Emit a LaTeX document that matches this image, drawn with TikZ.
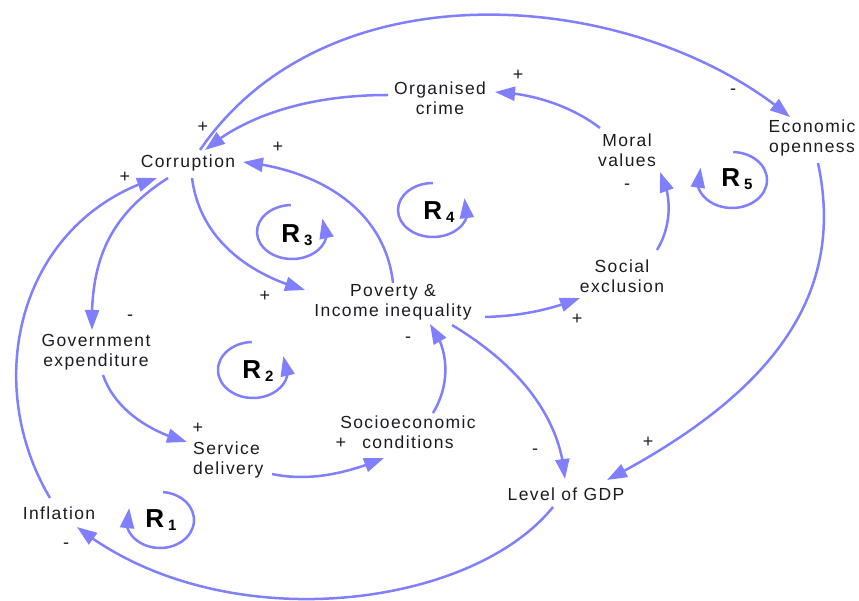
\documentclass[tikz,border=0pt]{standalone}
\usepackage{fontspec}
\setmainfont{Liberation Sans}[LetterSpace=8]
\newfontfamily\loopfont{Liberation Sans}
\usetikzlibrary{arrows.meta,bending}
\definecolor{linkblue}{RGB}{128,128,255}
\definecolor{ink}{RGB}{30,25,35}

\begin{document}
\begin{tikzpicture}[x=1pt,y=-1pt,
  var/.style={align=center,inner sep=0pt,text=ink,font=\fontsize{17.5}{20}\selectfont},
  link/.style={draw=linkblue,line width=2.5pt,-{Triangle[length=20pt,width=14pt]}},
  pol/.style={text=ink,inner sep=0pt,font=\fontsize{18}{18}\selectfont},
  looplab/.style={text=black,inner sep=0pt,anchor=base,font=\loopfont\fontsize{26}{26}\selectfont\bfseries}]
\useasboundingbox (0,0) rectangle (859,601);

% variables
\node[var] (cor) at (188,163) {Corruption};
\node[var] (org) at (440,98) {Organised\\crime};
\node[var] (eco) at (812,138) {Economic\\openness};
\node[var] (mor) at (627,150) {Moral\\values};
\node[var] (pov) at (393,302) {Poverty \&\\Income inequality};
\node[var] (soc) at (622,276) {Social\\exclusion};
\node[var] (gov) at (96,352) {Government\\expenditure};
\node[var,align=left,anchor=west] (ser) at (193,460) {Service\\delivery};
\node[var] (sec) at (408,432) {Socioeconomic\\conditions};
\node[var] (gdp) at (566,494) {Level of GDP};
\node[var] (inf) at (59,513) {Inflation};

% causal links
\draw[link] ([shift={(12,-13)}]cor.center) .. controls +(130,-190) and +(-150,-127) .. ([shift={(-22,-21)}]eco.center);
\draw[link] ([shift={(-52,-3)}]org.center) .. controls +(-88,0) and +(35,-30) .. ([shift={(17,-13)}]cor.center);
\draw[link] ([shift={(0,-19)}]pov.center) .. controls +(-8,-73) and +(77,8) .. ([shift={(55,-1)}]cor.center);
\draw[link] ([shift={(4,15)}]cor.center) .. controls +(8,62) and +(-55,-15) .. ([shift={(-88,-12)}]pov.center);
\draw[link] ([shift={(-20,15)}]cor.center) .. controls +(-58,37) and +(-2,-70) .. ([shift={(-4,-22)}]gov.center);
\draw[link] ([shift={(-9,-15)}]inf.center) .. controls +(-70,-118) and +(-137,42) .. ([shift={(-31,15)}]cor.center);
\draw[link] ([shift={(7,23)}]gov.center) .. controls +(12,35) and +(-37,-10) .. ([shift={(-6,-18)}]ser.west);
\draw[link] ([shift={(79,14)}]ser.west) .. controls +(38,8) and +(-36,15) .. ([shift={(-24,26)}]sec.center);
\draw[link] ([shift={(25,-19)}]sec.center) .. controls +(17,-28) and +(20,26) .. ([shift={(37,22)}]pov.center);
\draw[link] ([shift={(92,15)}]pov.center) .. controls +(35,-1) and +(-30,12) .. ([shift={(-42,22)}]soc.center);
\draw[link] ([shift={(35,-26)}]soc.center) .. controls +(15,-25) and +(12,23) .. ([shift={(33,22)}]mor.center);
\draw[link] ([shift={(-27,-22)}]mor.center) .. controls +(-30,-23) and +(35,1) .. ([shift={(55,-6)}]org.center);
\draw[link] ([shift={(59,23)}]pov.center) .. controls +(58,35) and +(-5,-69) .. ([shift={(-1,-15)}]gdp.center);
\draw[link] ([shift={(6,25)}]eco.center) .. controls +(27,127) and +(173,-90) .. ([shift={(41,-14)}]gdp.center);
\draw[link] ([shift={(-13,13)}]gdp.center) .. controls +(-83,103) and +(143,113) .. ([shift={(18,14)}]inf.center);

% polarities
\node[pol] (s1) at (733,92) {-};
\node[pol] (s2) at (518,75) {+};
\node[pol] (s3) at (203,127) {+};
\node[pol] (s4) at (278,147) {+};
\node[pol] (s5) at (125,177) {+};
\node[pol] (s6) at (627,187) {-};
\node[pol] (s7) at (130,318) {-};
\node[pol] (s8) at (265,296) {+};
\node[pol] (s9) at (577,319) {+};
\node[pol] (s10) at (408,340) {-};
\node[pol] (s11) at (198,428) {+};
\node[pol] (s12) at (341,443) {+};
\node[pol] (s13) at (535,452) {-};
\node[pol] (s14) at (648,442) {+};
\node[pol] (s15) at (66,546) {-};

% reinforcing loops
\coordinate (l1) at (160,520);
\coordinate (l2) at (253,370);
\coordinate (l3) at (292,232);
\coordinate (l4) at (433,210);
\coordinate (l5) at (732,180);
\draw[link] ([shift={(-85:34 and 28)}]l1) arc[start angle=-85,end angle=205,x radius=34,y radius=28];
\draw[link] ([shift={(-92:35 and 28)}]l2) arc[start angle=-92,end angle=-390,x radius=35,y radius=28];
\draw[link] ([shift={(-92:35 and 27)}]l3) arc[start angle=-92,end angle=-390,x radius=35,y radius=27];
\draw[link] ([shift={(-90:35 and 27)}]l4) arc[start angle=-90,end angle=-386,x radius=35,y radius=27];
\draw[link] ([shift={(-88:35 and 28)}]l5) arc[start angle=-88,end angle=206,x radius=35,y radius=28];
\node[looplab] (r1) at (161,527) {R\hspace{4pt}\raisebox{-3pt}{\fontsize{15}{15}\selectfont 1}};
\node[looplab] (r2) at (258,378) {R\hspace{4pt}\raisebox{-3pt}{\fontsize{15}{15}\selectfont 2}};
\node[looplab] (r3) at (297,243) {R\hspace{4pt}\raisebox{-3pt}{\fontsize{15}{15}\selectfont 3}};
\node[looplab] (r4) at (439,220) {R\hspace{4pt}\raisebox{-3pt}{\fontsize{15}{15}\selectfont 4}};
\node[looplab] (r5) at (737,187) {R\hspace{4pt}\raisebox{-3pt}{\fontsize{15}{15}\selectfont 5}};
\end{tikzpicture}
\end{document}
